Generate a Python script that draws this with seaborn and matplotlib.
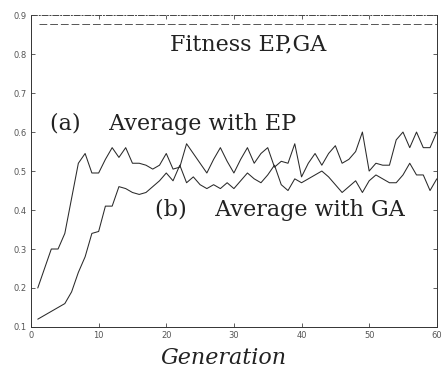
import matplotlib
matplotlib.use("Agg")
import matplotlib.pyplot as plt
import seaborn as sns
import pandas as pd
import numpy as np

generation = list(range(1, 61))
ep_avg = [0.20, 0.25, 0.30, 0.30, 0.34, 0.43, 0.52, 0.545, 0.495, 0.495,
          0.53, 0.56, 0.535, 0.56, 0.52, 0.52, 0.515, 0.505, 0.515, 0.545,
          0.505, 0.51, 0.57, 0.545, 0.52, 0.495, 0.53, 0.56, 0.525, 0.495,
          0.53, 0.56, 0.52, 0.545, 0.56, 0.51, 0.525, 0.52, 0.57, 0.485,
          0.52, 0.545, 0.515, 0.545, 0.565, 0.52, 0.53, 0.55, 0.60, 0.50,
          0.52, 0.515, 0.515, 0.58, 0.60, 0.56, 0.60, 0.56, 0.56, 0.60]
ga_avg = [0.12, 0.13, 0.14, 0.15, 0.16, 0.19, 0.24, 0.28, 0.34, 0.345,
          0.41, 0.41, 0.46, 0.455, 0.445, 0.44, 0.445, 0.46, 0.475, 0.495,
          0.475, 0.515, 0.47, 0.485, 0.465, 0.455, 0.465, 0.455, 0.47, 0.455,
          0.475, 0.495, 0.48, 0.47, 0.49, 0.515, 0.465, 0.45, 0.48, 0.47,
          0.48, 0.49, 0.50, 0.485, 0.465, 0.445, 0.46, 0.475, 0.445, 0.475,
          0.49, 0.48, 0.47, 0.47, 0.49, 0.52, 0.49, 0.49, 0.45, 0.48]
series_names = ["Average with EP", "Average with GA"]
x_ticks = [0, 10, 20, 30, 40, 50, 60]
y_ticks = [0.1, 0.2, 0.3, 0.4, 0.5, 0.6, 0.7, 0.8, 0.9]

df = pd.DataFrame({
    "Generation": generation * 2,
    "Fitness": ep_avg + ga_avg,
    "Series": [series_names[0]] * len(generation) + [series_names[1]] * len(generation),
})

sns.set_style("ticks")
plt.rcParams['font.family'] = ['DejaVu Sans']

fig = plt.figure(figsize=(4.43, 3.78), dpi=100)
ax = fig.add_axes([0.070, 0.135, 0.916, 0.825])

sns.lineplot(data=df, x="Generation", y="Fitness", hue="Series",
             palette=["#2a2a2a", "#2a2a2a"], linewidth=0.75, ax=ax, legend=False)

ax.set_xlim(0, 60)
ax.set_ylim(0.1, 0.9)
ax.set_xticks(x_ticks)
ax.set_yticks(y_ticks)
ax.set_xticklabels([str(t) for t in x_ticks])
ax.set_yticklabels([f"{t:.1f}" for t in y_ticks])
ax.tick_params(direction="in", length=3, width=0.6, labelsize=6,
               labelcolor="#555555", color="#444444",
               top=True, right=True, pad=3)
for side in ["left", "bottom", "right"]:
    ax.spines[side].set_linewidth(0.7)
    ax.spines[side].set_color("#333333")
ax.spines["top"].set_linestyle((0, (6, 2, 1, 2)))
ax.spines["top"].set_linewidth(0.7)
ax.spines["top"].set_color("#444444")
ax.axhline(0.877, xmin=0.02, xmax=1.0, color="#555555", lw=0.7,
           linestyle=(0, (8, 3)))

ax.set_xlabel("")
ax.set_ylabel("")

serif = ["DejaVu Serif"]
ax.text(0.535, 0.905, "Fitness EP,GA", transform=ax.transAxes, fontsize=16,
        family=serif, color="#222222", ha="center", va="center")
ax.text(0.047, 0.65, "(a)    Average with EP", transform=ax.transAxes, fontsize=16,
        family=serif, color="#222222", ha="left", va="center")
ax.text(0.305, 0.375, "(b)    Average with GA", transform=ax.transAxes, fontsize=16,
        family=serif, color="#222222", ha="left", va="center")
fig.text(0.504, 0.053, "Generation", fontsize=16, family=serif, style="italic",
         color="#222222", ha="center", va="center")

fig.savefig("out.png", dpi=100)
